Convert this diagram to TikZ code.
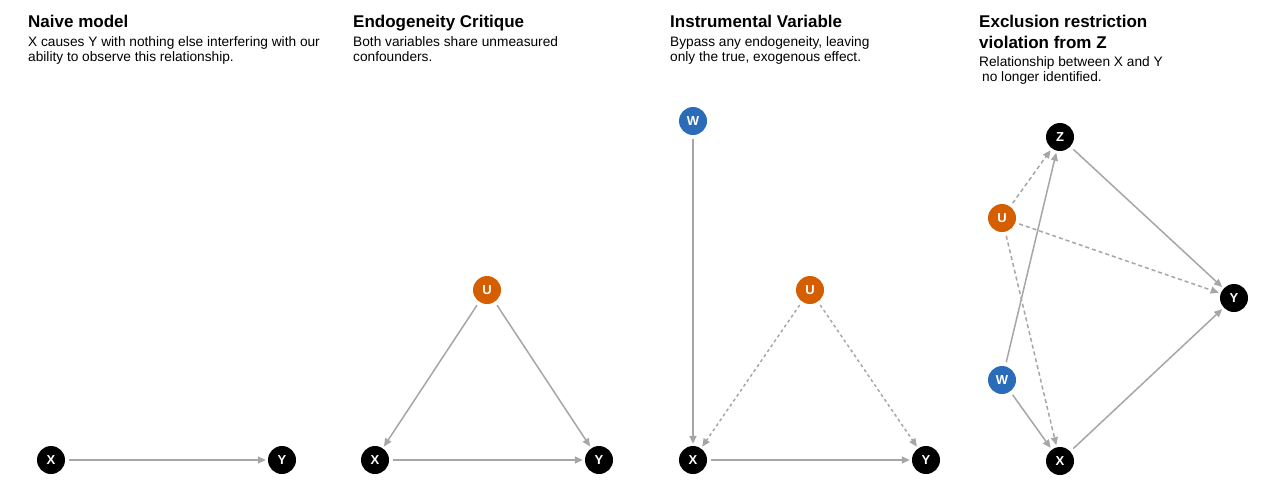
\documentclass[tikz,border=0pt]{standalone}
\usepackage{fontspec}
\setmainfont{Liberation Sans}
\usetikzlibrary{arrows.meta}
\definecolor{edgegray}{HTML}{A6A6A6}
\definecolor{uorange}{HTML}{D55E00}
\definecolor{wblue}{HTML}{2B6CB8}
\tikzset{
  var/.style={circle, fill=black, minimum size=28pt, inner sep=0pt, text=white, font=\fontsize{13}{13}\selectfont\bfseries},
  uvar/.style={var, fill=uorange},
  wvar/.style={var, fill=wblue},
  edge/.style={draw=edgegray, line width=1.5pt, -{Triangle[length=8pt,width=7pt]}, shorten >=2pt, shorten <=4pt},
  dedge/.style={edge, dash pattern=on 4pt off 3pt},
  ttl/.style={anchor=base west, inner sep=0pt, font=\fontsize{17}{21.5}\selectfont\bfseries, align=left},
  sub/.style={anchor=base west, inner sep=0pt, font=\fontsize{13.7}{15}\selectfont, align=left},
}
\begin{document}
\begin{tikzpicture}[x=1pt,y=-1pt]
\useasboundingbox (0,0) rectangle (1267,499);
% titles (anchored at the baseline of the last line)
\node[ttl] (t1) at (28,27) {Naive model};
\node[sub] (s1) at (28,61) {X causes Y with nothing else interfering with our\\ability to observe this relationship.};
\node[ttl] (t2) at (353,27) {Endogeneity Critique};
\node[sub] (s2) at (353,61) {Both variables share unmeasured\\confounders.};
\node[ttl] (t3) at (670,27) {Instrumental Variable};
\node[sub] (s3) at (670,61) {Bypass any endogeneity, leaving\\only the true, exogenous effect.};
\node[ttl] (t4) at (979,48.5) {Exclusion restriction\\violation from Z};
\node[sub] (s4) at (979,81) {Relationship between X and Y\\\hspace*{3pt}no longer identified.};
% panel 1
\node[var] (x1) at (51,460) {X};
\node[var] (y1) at (282,460) {Y};
\draw[edge] (x1) -- (y1);
% panel 2
\node[uvar] (u2) at (487,290) {U};
\node[var] (x2) at (375,460) {X};
\node[var] (y2) at (599,460) {Y};
\draw[edge] (x2) -- (y2);
\draw[edge] (u2) -- (x2);
\draw[edge] (u2) -- (y2);
% panel 3
\node[wvar] (w3) at (693,121) {W};
\node[uvar] (u3) at (810,290) {U};
\node[var] (x3) at (693,460) {X};
\node[var] (y3) at (926,460) {Y};
\draw[edge] (x3) -- (y3);
\draw[edge] (w3) -- (x3);
\draw[dedge, dash pattern=on 3pt off 3pt] (u3) -- (x3);
\draw[dedge, dash pattern=on 3pt off 3pt] (u3) -- (y3);
% panel 4
\node[var] (z4) at (1060,137) {Z};
\node[uvar] (u4) at (1002,218) {U};
\node[var] (y4) at (1234,298) {Y};
\node[wvar] (w4) at (1002,380) {W};
\node[var] (x4) at (1060,461) {X};
\draw[edge] (z4) -- (y4);
\draw[edge] (x4) -- (y4);
\draw[edge] (w4) -- (z4);
\draw[edge] (w4) -- (x4);
\draw[dedge] (u4) -- (z4);
\draw[dedge] (u4) -- (y4);
\draw[dedge] (u4) -- (x4);
\end{tikzpicture}
\end{document}
